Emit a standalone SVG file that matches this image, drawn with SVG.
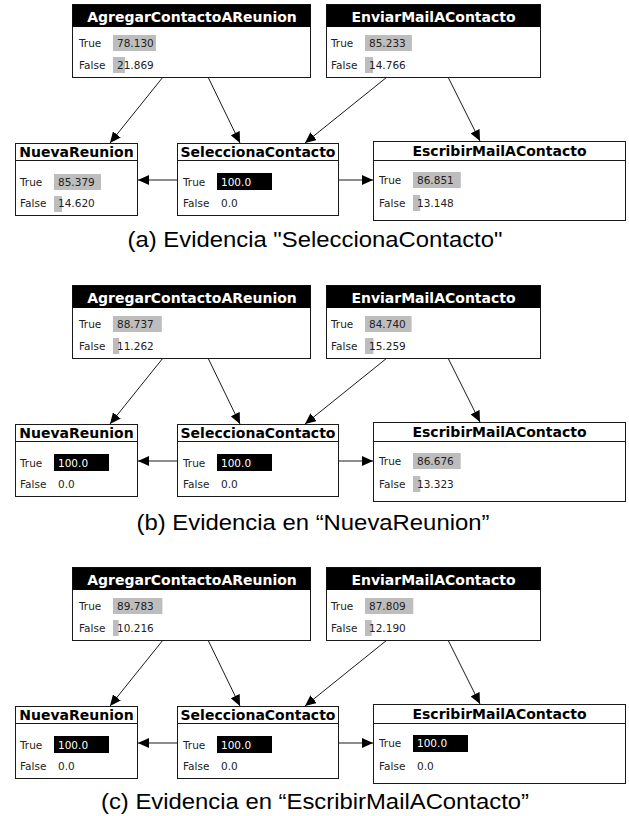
<svg xmlns="http://www.w3.org/2000/svg" width="629" height="816" viewBox="0 0 629 816">
<style>
.box{fill:#fff;stroke:#1a1a1a;stroke-width:1}
.hdr{fill:#000}
.hl{stroke:#1a1a1a;stroke-width:1}
.ht{font-family:"DejaVu Sans",sans-serif;font-weight:bold;font-size:14px;text-anchor:middle;fill:#000}
.lb{font-family:"DejaVu Sans",sans-serif;font-size:10.5px;fill:#222}
.ht.w,.lb.w{fill:#fff}
.bar{fill:#bdbdbd}
.bk{fill:#000}
.edge{stroke:#1a1a1a;stroke-width:1;fill:none;marker-end:url(#ah)}
.cap{font-family:"Liberation Sans",Arial,sans-serif;font-size:22px;text-anchor:middle;fill:#000}
</style>
<defs>
<marker id="ah" markerUnits="userSpaceOnUse" markerWidth="12" markerHeight="10" refX="11" refY="5" orient="auto"><path d="M0,0 L11,5 L0,10 z" fill="#000"/></marker>
</defs>

<!-- Panel (a) -->
<g id="panel-a">
<g id="a-edges">
<line class="edge" x1="163" y1="77" x2="110" y2="143"/>
<line class="edge" x1="208" y1="77" x2="240" y2="143"/>
<line class="edge" x1="387" y1="77" x2="305" y2="143"/>
<line class="edge" x1="448" y1="77" x2="480" y2="141"/>
<line class="edge" x1="177" y1="180" x2="138" y2="180"/>
<line class="edge" x1="338" y1="180" x2="373" y2="180"/>
</g>
<g id="a-agregar">
<rect class="box" x="72.5" y="4.5" width="238" height="73"/>
<rect class="hdr" x="72.5" y="4.5" width="238" height="22.5"/>
<text class="ht w" x="192" y="21.5">AgregarContactoAReunion</text>
<text class="lb" x="79" y="47">True</text><rect class="bar" x="113" y="35" width="43" height="16"/><text class="lb" x="117" y="47">78.130</text>
<text class="lb" x="79" y="69">False</text><rect class="bar" x="113" y="57" width="12" height="16"/><text class="lb" x="117" y="69">21.869</text>
</g>
<g id="a-enviar">
<rect class="box" x="326.5" y="4.5" width="214" height="73"/>
<rect class="hdr" x="326.5" y="4.5" width="214" height="22.5"/>
<text class="ht w" x="433.5" y="21.5">EnviarMailAContacto</text>
<text class="lb" x="331" y="47">True</text><rect class="bar" x="365" y="35" width="46.9" height="16"/><text class="lb" x="369" y="47">85.233</text>
<text class="lb" x="331" y="69">False</text><rect class="bar" x="365" y="57" width="8.1" height="16"/><text class="lb" x="369" y="69">14.766</text>
</g>
<g id="a-nueva">
<rect class="box" x="15.5" y="143.5" width="122" height="72"/>
<line class="hl" x1="15.5" y1="160.5" x2="137.5" y2="160.5"/>
<text class="ht" x="76.5" y="157">NuevaReunion</text>
<text class="lb" x="20" y="186">True</text><rect class="bar" x="54" y="174" width="47" height="16"/><text class="lb" x="58" y="186">85.379</text>
<text class="lb" x="20" y="207">False</text><rect class="bar" x="54" y="196" width="8" height="16"/><text class="lb" x="58" y="207">14.620</text>
</g>
<g id="a-selecciona">
<rect class="box" x="177.5" y="143.5" width="161" height="72"/>
<line class="hl" x1="177.5" y1="160.5" x2="338.5" y2="160.5"/>
<text class="ht" x="258" y="157">SeleccionaContacto</text>
<text class="lb" x="183" y="186">True</text><rect class="bk" x="217" y="173" width="55" height="17"/><text class="lb w" x="221" y="186">100.0</text>
<text class="lb" x="183" y="207">False</text><text class="lb" x="221" y="207">0.0</text>
</g>
<g id="a-escribir">
<rect class="box" x="373.5" y="141.5" width="252" height="79"/>
<line class="hl" x1="373.5" y1="160.5" x2="625.5" y2="160.5"/>
<text class="ht" x="499.5" y="156">EscribirMailAContacto</text>
<text class="lb" x="379" y="184">True</text><rect class="bar" x="413" y="172" width="47.8" height="16"/><text class="lb" x="417" y="184">86.851</text>
<text class="lb" x="379" y="207">False</text><rect class="bar" x="413" y="195" width="7.2" height="16"/><text class="lb" x="417" y="207">13.148</text>
</g>
<text class="cap" x="315" y="247" textLength="375" lengthAdjust="spacingAndGlyphs">(a) Evidencia "SeleccionaContacto"</text>
</g>

<!-- Panel (b) -->
<g id="panel-b" transform="translate(0,281)">
<g id="b-edges">
<line class="edge" x1="163" y1="77" x2="110" y2="143"/>
<line class="edge" x1="208" y1="77" x2="240" y2="143"/>
<line class="edge" x1="387" y1="77" x2="305" y2="143"/>
<line class="edge" x1="448" y1="77" x2="480" y2="141"/>
<line class="edge" x1="177" y1="180" x2="138" y2="180"/>
<line class="edge" x1="338" y1="180" x2="373" y2="180"/>
</g>
<g id="b-agregar">
<rect class="box" x="72.5" y="4.5" width="238" height="73"/>
<rect class="hdr" x="72.5" y="4.5" width="238" height="22.5"/>
<text class="ht w" x="192" y="21.5">AgregarContactoAReunion</text>
<text class="lb" x="79" y="47">True</text><rect class="bar" x="113" y="35" width="48.8" height="16"/><text class="lb" x="117" y="47">88.737</text>
<text class="lb" x="79" y="69">False</text><rect class="bar" x="113" y="57" width="6.2" height="16"/><text class="lb" x="117" y="69">11.262</text>
</g>
<g id="b-enviar">
<rect class="box" x="326.5" y="4.5" width="214" height="73"/>
<rect class="hdr" x="326.5" y="4.5" width="214" height="22.5"/>
<text class="ht w" x="433.5" y="21.5">EnviarMailAContacto</text>
<text class="lb" x="331" y="47">True</text><rect class="bar" x="365" y="35" width="46.6" height="16"/><text class="lb" x="369" y="47">84.740</text>
<text class="lb" x="331" y="69">False</text><rect class="bar" x="365" y="57" width="8.4" height="16"/><text class="lb" x="369" y="69">15.259</text>
</g>
<g id="b-nueva">
<rect class="box" x="15.5" y="143.5" width="122" height="72"/>
<line class="hl" x1="15.5" y1="160.5" x2="137.5" y2="160.5"/>
<text class="ht" x="76.5" y="157">NuevaReunion</text>
<text class="lb" x="20" y="186">True</text><rect class="bk" x="54" y="173" width="55" height="17"/><text class="lb w" x="58" y="186">100.0</text>
<text class="lb" x="20" y="207">False</text><text class="lb" x="58" y="207">0.0</text>
</g>
<g id="b-selecciona">
<rect class="box" x="177.5" y="143.5" width="161" height="72"/>
<line class="hl" x1="177.5" y1="160.5" x2="338.5" y2="160.5"/>
<text class="ht" x="258" y="157">SeleccionaContacto</text>
<text class="lb" x="183" y="186">True</text><rect class="bk" x="217" y="173" width="55" height="17"/><text class="lb w" x="221" y="186">100.0</text>
<text class="lb" x="183" y="207">False</text><text class="lb" x="221" y="207">0.0</text>
</g>
<g id="b-escribir">
<rect class="box" x="373.5" y="141.5" width="252" height="79"/>
<line class="hl" x1="373.5" y1="160.5" x2="625.5" y2="160.5"/>
<text class="ht" x="499.5" y="156">EscribirMailAContacto</text>
<text class="lb" x="379" y="184">True</text><rect class="bar" x="413" y="172" width="47.7" height="16"/><text class="lb" x="417" y="184">86.676</text>
<text class="lb" x="379" y="207">False</text><rect class="bar" x="413" y="195" width="7.3" height="16"/><text class="lb" x="417" y="207">13.323</text>
</g>
<text class="cap" x="313" y="249" textLength="353" lengthAdjust="spacingAndGlyphs">(b) Evidencia en “NuevaReunion”</text>
</g>

<!-- Panel (c) -->
<g id="panel-c" transform="translate(0,563)">
<g id="c-edges">
<line class="edge" x1="163" y1="77" x2="110" y2="143"/>
<line class="edge" x1="208" y1="77" x2="240" y2="143"/>
<line class="edge" x1="387" y1="77" x2="305" y2="143"/>
<line class="edge" x1="448" y1="77" x2="480" y2="141"/>
<line class="edge" x1="177" y1="180" x2="138" y2="180"/>
<line class="edge" x1="338" y1="180" x2="373" y2="180"/>
</g>
<g id="c-agregar">
<rect class="box" x="72.5" y="4.5" width="238" height="73"/>
<rect class="hdr" x="72.5" y="4.5" width="238" height="22.5"/>
<text class="ht w" x="192" y="21.5">AgregarContactoAReunion</text>
<text class="lb" x="79" y="47">True</text><rect class="bar" x="113" y="35" width="49.4" height="16"/><text class="lb" x="117" y="47">89.783</text>
<text class="lb" x="79" y="69">False</text><rect class="bar" x="113" y="57" width="5.6" height="16"/><text class="lb" x="117" y="69">10.216</text>
</g>
<g id="c-enviar">
<rect class="box" x="326.5" y="4.5" width="214" height="73"/>
<rect class="hdr" x="326.5" y="4.5" width="214" height="22.5"/>
<text class="ht w" x="433.5" y="21.5">EnviarMailAContacto</text>
<text class="lb" x="331" y="47">True</text><rect class="bar" x="365" y="35" width="48.3" height="16"/><text class="lb" x="369" y="47">87.809</text>
<text class="lb" x="331" y="69">False</text><rect class="bar" x="365" y="57" width="6.7" height="16"/><text class="lb" x="369" y="69">12.190</text>
</g>
<g id="c-nueva">
<rect class="box" x="15.5" y="143.5" width="122" height="72"/>
<line class="hl" x1="15.5" y1="160.5" x2="137.5" y2="160.5"/>
<text class="ht" x="76.5" y="157">NuevaReunion</text>
<text class="lb" x="20" y="186">True</text><rect class="bk" x="54" y="173" width="55" height="17"/><text class="lb w" x="58" y="186">100.0</text>
<text class="lb" x="20" y="207">False</text><text class="lb" x="58" y="207">0.0</text>
</g>
<g id="c-selecciona">
<rect class="box" x="177.5" y="143.5" width="161" height="72"/>
<line class="hl" x1="177.5" y1="160.5" x2="338.5" y2="160.5"/>
<text class="ht" x="258" y="157">SeleccionaContacto</text>
<text class="lb" x="183" y="186">True</text><rect class="bk" x="217" y="173" width="55" height="17"/><text class="lb w" x="221" y="186">100.0</text>
<text class="lb" x="183" y="207">False</text><text class="lb" x="221" y="207">0.0</text>
</g>
<g id="c-escribir">
<rect class="box" x="373.5" y="141.5" width="252" height="79"/>
<line class="hl" x1="373.5" y1="160.5" x2="625.5" y2="160.5"/>
<text class="ht" x="499.5" y="156">EscribirMailAContacto</text>
<text class="lb" x="379" y="184">True</text><rect class="bk" x="413" y="172" width="55" height="17"/><text class="lb w" x="417" y="184">100.0</text>
<text class="lb" x="379" y="207">False</text><text class="lb" x="417" y="207">0.0</text>
</g>
<text class="cap" x="315" y="246" textLength="428" lengthAdjust="spacingAndGlyphs">(c) Evidencia en “EscribirMailAContacto”</text>
</g>
</svg>
